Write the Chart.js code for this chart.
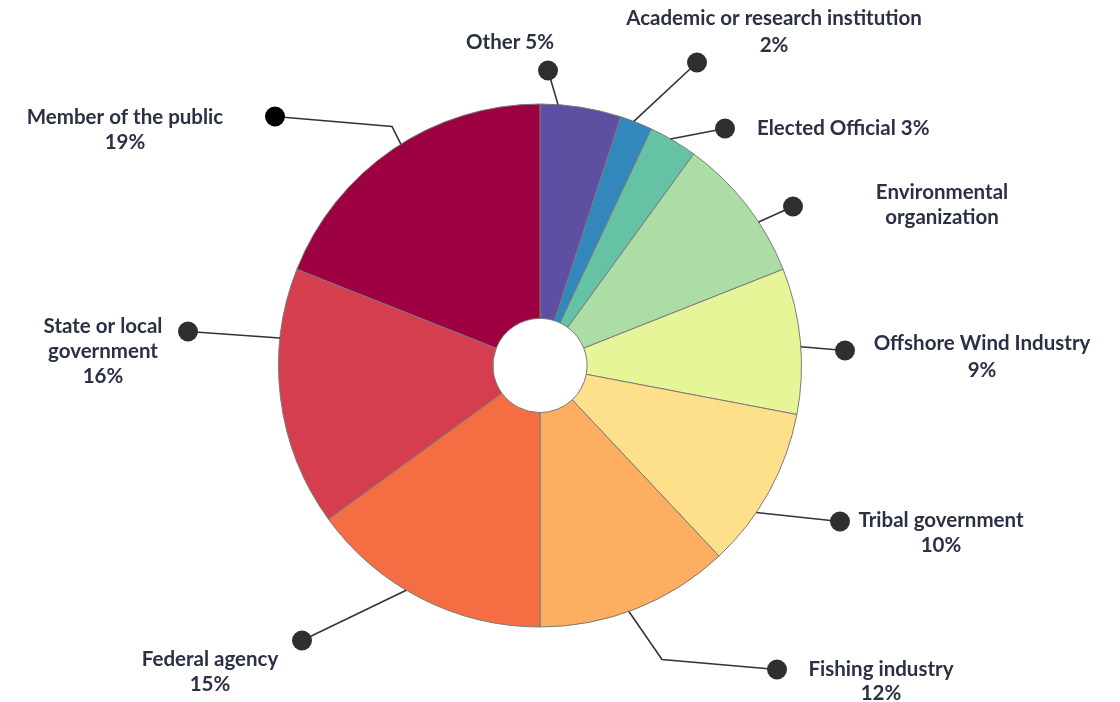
<!DOCTYPE html>
<html>
<head>
<meta charset="utf-8">
<script src="https://cdn.jsdelivr.net/npm/chart.js@4"></script>
<style>
  html, body { margin: 0; padding: 0; background: #fff; }
  canvas { display: block; }
</style>
</head>
<body>
<canvas id="pieChart" width="1120" height="702"></canvas>
<script>
// data
const categories = ['Other', 'Academic or research institution', 'Elected Official', 'Environmental organization',
  'Offshore Wind Industry', 'Tribal government', 'Fishing industry', 'Federal agency',
  'State or local government', 'Member of the public'];
const shares = [5, 2, 3, 9, 9, 10, 12, 15, 16, 19];
const labelLines = [
  ['Other 5%'],
  ['Academic or research institution', '2%'],
  ['Elected Official 3%'],
  ['Environmental', 'organization'],
  ['Offshore Wind Industry', '9%'],
  ['Tribal government', '10%'],
  ['Fishing industry', '12%'],
  ['Federal agency', '15%'],
  ['State or local', 'government', '16%'],
  ['Member of the public', '19%']
];
const colors = ['#5e4fa2', '#3288bd', '#66c2a5', '#abdda4', '#e6f598', '#fee08b', '#fdae61', '#f46d43', '#d53e4f', '#9e0142'];

// callout layout, offsets from the pie centre (t = where the line leaves the slice)
const callouts = [
  { t: 0.22, dot: [8, -295],   text: [-30, -323], align: 'center' },
  { t: 0.42, dot: [157, -303], text: [234, -347], align: 'center', gap: 27 },
  { t: 0.44, dot: [185, -237], text: [217, -237], align: 'left' },
  { t: 0.64, dot: [253, -159], text: [402, -173], align: 'center' },
  { t: 0.54, dot: [305, -15],  text: [442, -22],  align: 'center', gap: 27 },
  { t: 0.65, dot: [300, 156],  text: [401, 155],  align: 'center' },
  { t: 0.54, dot: [237, 304],  text: [341, 304],  align: 'center', elbow: [122, 294], gap: 24 },
  { t: 0.57, dot: [-238, 275], text: [-330, 294], align: 'center' },
  { t: 0.73, dot: [-352, -34], text: [-437, -39], align: 'center' },
  { t: 0.53, dot: [-265, -249], text: [-415, -248], align: 'center', elbow: [-148, -239] }
];

const calloutPlugin = {
  id: 'callouts',
  afterDraw(chart) {
    const ctx = chart.ctx;
    const arcs = chart.getDatasetMeta(0).data;
    arcs.forEach((arc, i) => {
      const c = callouts[i];
      const p = arc.getProps(['x', 'y', 'startAngle', 'endAngle', 'outerRadius'], true);
      const a = p.startAngle + c.t * (p.endAngle - p.startAngle);
      const sx = p.x + p.outerRadius * Math.cos(a);
      const sy = p.y + p.outerRadius * Math.sin(a);
      const dx = p.x + c.dot[0], dy = p.y + c.dot[1];

      ctx.save();
      ctx.strokeStyle = '#333';
      ctx.lineWidth = 1.6;
      ctx.beginPath();
      ctx.moveTo(sx, sy);
      if (c.elbow) ctx.lineTo(p.x + c.elbow[0], p.y + c.elbow[1]);
      ctx.lineTo(dx, dy);
      ctx.stroke();

      ctx.fillStyle = i === 9 ? '#000' : '#2f2f2f';
      ctx.beginPath();
      ctx.arc(dx, dy, 10, 0, Math.PI * 2);
      ctx.fill();

      ctx.fillStyle = '#2b3045';
      ctx.font = 'bold 20.5px Lato';
      ctx.textAlign = c.align;
      ctx.textBaseline = 'middle';
      const gap = c.gap || 25;
      labelLines[i].forEach((line, k) => {
        ctx.fillText(line, p.x + c.text[0], p.y + c.text[1] + k * gap);
      });
      ctx.restore();
    });
  }
};

new Chart(document.getElementById('pieChart'), {
  type: 'doughnut',
  data: {
    labels: categories,
    datasets: [{
      data: shares,
      backgroundColor: colors,
      borderColor: '#7a7a7a',
      borderWidth: 1
    }]
  },
  options: {
    responsive: false,
    animation: false,
    cutout: '18%',
    layout: { padding: { top: 103, bottom: 74, left: 278, right: 318 } },
    plugins: {
      legend: { display: false },
      tooltip: { enabled: false }
    }
  },
  plugins: [calloutPlugin]
});
</script>
</body>
</html>
